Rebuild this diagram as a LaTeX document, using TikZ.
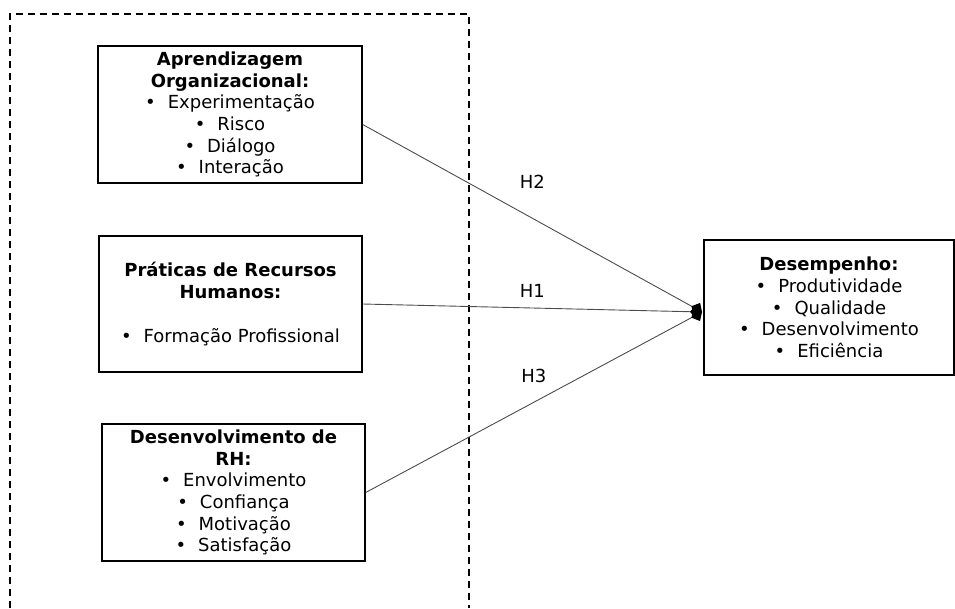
\documentclass[tikz,border=0pt]{standalone}
\usepackage{fontspec}
\setmainfont{DejaVu Sans}
\usetikzlibrary{arrows, arrows.meta, positioning, calc}
\newcommand{\bul}[1]{\textbullet\hspace{12pt}#1}
\tikzset{
   mybox/.style={draw, line width=1.4pt, align=center, inner sep=0pt,
      font=\fontsize{18}{21.7}\selectfont},
   mylink/.style={draw=black!70, line width=.9pt, -{Kite[length=12pt, width=14pt, inset=6pt, black]}},
   mylabel/.style={font=\fontsize{18}{20}\selectfont}
}
\begin{document}
\begin{tikzpicture}[x=1pt, y=-1pt]
      \useasboundingbox (0,0) rectangle (955,608);
      \draw[line width=1.2pt, dash pattern=on 7pt off 5pt] (10,608) |- (469,14) -- (469,608);

      \node[mybox, minimum width=264pt, minimum height=137pt] (aprend) at (230,114.5)
        {\textbf{Aprendizagem}\\ \textbf{Organizacional:}\\ \bul{Experimentação}\\ \bul{Risco}\\ \bul{Diálogo}\\ \bul{Interação}};
      \node[mybox, minimum width=263pt, minimum height=136pt] (praticas) at (230.5,304)
        {\textbf{Práticas de Recursos}\\ \textbf{Humanos:}\\[21.7pt] \bul{Formação Profissional}};
      \node[mybox, minimum width=263pt, minimum height=137pt] (desenv) at (233.5,492.5)
        {\textbf{Desenvolvimento de}\\ \textbf{RH:}\\ \bul{Envolvimento}\\ \bul{Confiança}\\ \bul{Motivação}\\ \bul{Satisfação}};
      \node[mybox, minimum width=250pt, minimum height=135pt] (desemp) at (829,307.5)
        {\textbf{Desempenho:}\\ \bul{Produtividade}\\ \bul{Qualidade}\\ \bul{Desenvolvimento}\\ \bul{Eficiência}};

      \coordinate (meet) at (702,312);

      \draw[mylink] ([yshift=-10pt]aprend.east) -- node[mylabel, pos=.5, above=26pt] {H2} (meet);
      \draw[mylink] (praticas.east) -- node[mylabel, pos=.5, above=7pt] {H1} (meet);
      \draw[mylink] (desenv.east) -- node[mylabel, pos=.5, above=16pt] {H3} (meet);
\end{tikzpicture}
\end{document}
